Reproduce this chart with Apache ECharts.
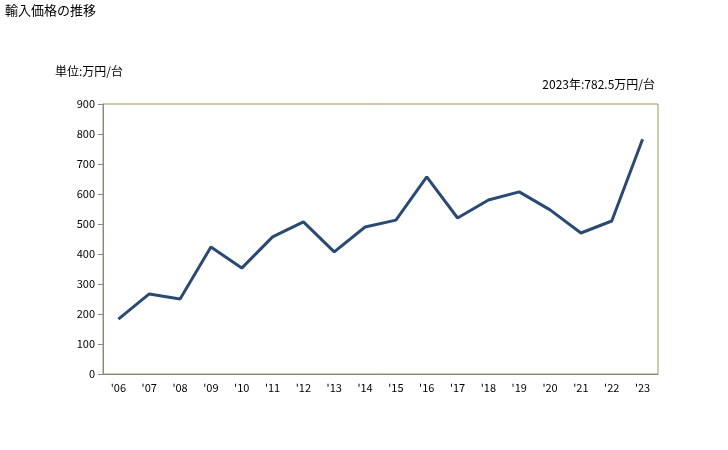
<!DOCTYPE html>
<html><head><meta charset="utf-8">
<script src="https://cdn.jsdelivr.net/npm/echarts@6/dist/echarts.min.js"></script>
<style>html,body{margin:0;padding:0;background:#fff}#c{width:728px;height:450px}</style>
</head><body><div id="c"></div>
<script>
const categories = ["'06","'07","'08","'09","'10","'11","'12","'13","'14","'15","'16","'17","'18","'19","'20","'21","'22","'23"];
const values = [183,267,250,423,353,457,507,407,490,513,657,520,580,607,547,470,510,782.5];
const titleText = "輸入価格の推移";
const unitText = "単位:万円/台";
const noteText = "2023年:782.5万円/台";
const font = "'Noto Sans CJK JP', sans-serif";
const chart = echarts.init(document.getElementById('c'));
chart.setOption({
  animation:false,
  backgroundColor:'#fff',
  textStyle:{fontFamily:font},
  graphic:[
    {type:'text',left:5,top:4,style:{text:titleText,font:"13px "+font,fill:'#000'}},
    {type:'text',left:55,top:65,style:{text:unitText,font:"12px "+font,fill:'#000'}},
    {type:'text',right:73,top:78,style:{text:noteText,font:"12px "+font,fill:'#000',textAlign:'right'}},
    {type:'rect',shape:{x:103,y:104,width:555,height:270},style:{fill:'none',stroke:'#9a9560',lineWidth:1},z:-1}
  ],
  grid:{left:103,right:70,top:104,bottom:76,containLabel:false},
  xAxis:{type:'category',data:categories,boundaryGap:true,
    axisLine:{lineStyle:{color:'#888',width:1}},axisTick:{show:false},
    axisLabel:{color:'#000',fontSize:11,margin:8,fontFamily:font}},
  yAxis:{type:'value',min:0,max:900,interval:100,
    axisLine:{show:true,lineStyle:{color:'#888',width:1}},
    axisTick:{show:true,length:5,lineStyle:{color:'#888'}},
    splitLine:{show:false},
    axisLabel:{color:'#000',fontSize:11,margin:8,fontFamily:font}},
  series:[{type:'line',data:values,symbol:'none',lineStyle:{color:'#2b4a73',width:3}}]
});
</script></body></html>
